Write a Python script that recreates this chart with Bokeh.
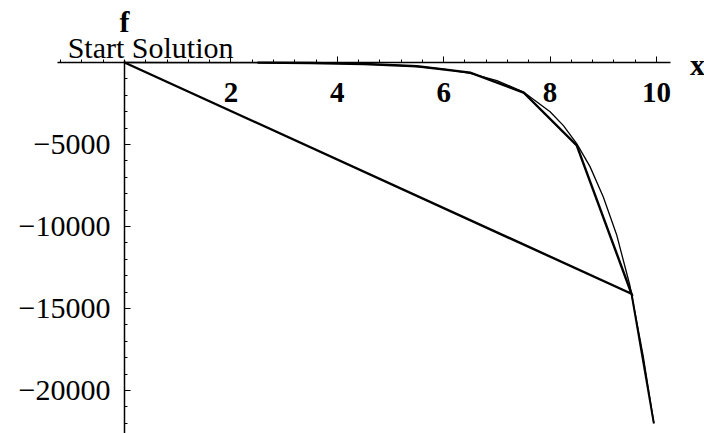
from bokeh.plotting import figure
from bokeh.models import LinearAxis, FixedTicker, Range1d, Label
from bokeh.embed import file_html
from bokeh.resources import INLINE

# Smooth objective curve f(x), sampled points
curve_x = [0, 1, 2, 3, 4, 5, 5.5, 6, 6.5, 7, 7.5, 8, 8.25, 8.5, 8.75, 9, 9.25, 9.5, 9.75, 9.95]
curve_f = [0, -3, -7, -20, -55, -150, -245, -400, -660, -1100, -1800, -3000, -3850,
           -4950, -6350, -8200, -10500, -13600, -17900, -22000]

# Start solution polygon
poly_x = [0, 9.53, 8.5, 7.5, 6.5, 5.5, 4.5, 3.5, 2.5]
poly_f = [0, -14100, -5050, -1830, -620, -230, -90, -35, -10]

# Last polygon edge beyond the steepest node
tail_x = [9.53, 9.95]
tail_f = [-14100, -22000]

x_ticks = [2, 4, 6, 8, 10]
y_ticks = [-5000, -10000, -15000, -20000]
y_tick_labels = {-5000: "\u22125000", -10000: "\u221210000",
                 -15000: "\u221215000", -20000: "\u221220000"}

FONT = "Liberation Serif"

p = figure(width=704, height=433, output_backend="svg", toolbar_location=None,
           x_axis_type=None, y_axis_type=None, min_border=0,
           x_range=Range1d(-2.331, 10.902), y_range=Range1d(-22622, 3780))
p.xgrid.visible = False
p.ygrid.visible = False
p.outline_line_color = None
p.background_fill_color = "white"
p.border_fill_color = "white"

xaxis = LinearAxis(fixed_location=0, bounds=(-1.26, 10.26),
                   ticker=FixedTicker(ticks=x_ticks,
                                      minor_ticks=[i * 0.4 for i in range(-3, 26)]))
xaxis.axis_line_width = 1.5
xaxis.major_tick_in = 6
xaxis.major_tick_out = 0
xaxis.minor_tick_in = 3
xaxis.minor_tick_out = 0
xaxis.major_label_standoff = 21
xaxis.major_label_text_font = FONT
xaxis.major_label_text_font_size = "29px"
xaxis.major_label_text_font_style = "bold"
xaxis.major_label_text_color = "black"
p.add_layout(xaxis, "below")

yaxis = LinearAxis(fixed_location=0, bounds=(-22700, 150),
                   ticker=FixedTicker(ticks=y_ticks,
                                      minor_ticks=[-i * 1000 for i in range(1, 23)]))
yaxis.axis_line_width = 1.5
yaxis.major_tick_in = 6
yaxis.major_tick_out = 0
yaxis.minor_tick_in = 3
yaxis.minor_tick_out = 0
yaxis.major_label_standoff = 14
yaxis.major_label_overrides = y_tick_labels
yaxis.major_label_text_font = FONT
yaxis.major_label_text_font_size = "30px"
yaxis.major_label_text_color = "black"
p.add_layout(yaxis, "left")

p.line(curve_x, curve_f, line_color="black", line_width=1.3)
p.line(poly_x, poly_f, line_color="black", line_width=2.4, line_join="miter")
p.line(tail_x, tail_f, line_color="black", line_width=2.0)

p.add_layout(Label(x=0.49, y=914, text="Start Solution", text_align="center",
                   text_baseline="alphabetic", text_font=FONT,
                   text_font_size="30px", text_color="black"))
p.add_layout(Label(x=0, y=2500, text="f", text_align="center",
                   text_baseline="middle", text_font=FONT,
                   text_font_size="30px", text_font_style="bold", text_color="black"))
p.add_layout(Label(x=10.77, y=-150, text="x", text_align="center",
                   text_baseline="middle", text_font=FONT,
                   text_font_size="30px", text_font_style="bold", text_color="black"))

open("out.html", "w").write(file_html(p, INLINE))
